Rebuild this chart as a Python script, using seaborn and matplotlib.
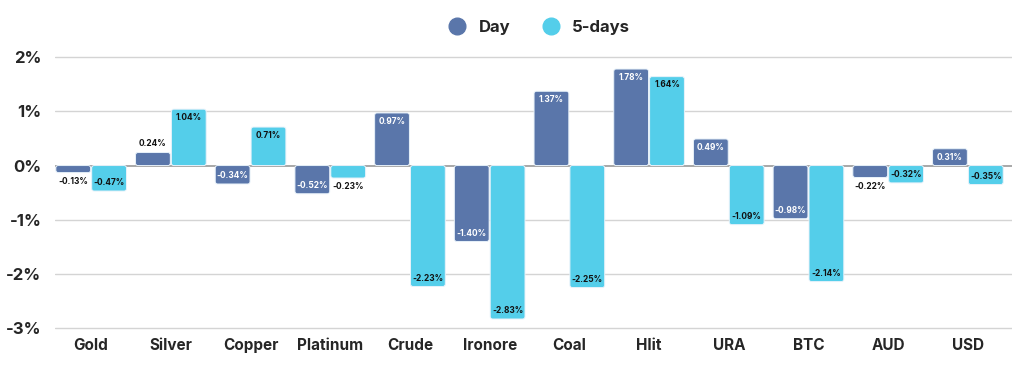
import numpy as np
import pandas as pd
import matplotlib
matplotlib.use("Agg")
import matplotlib.pyplot as plt
import seaborn as sns
from matplotlib.lines import Line2D
from matplotlib.patches import FancyBboxPatch

# data
assets = ["Gold", "Silver", "Copper", "Platinum", "Crude", "Ironore",
          "Coal", "Hlit", "URA", "BTC", "AUD", "USD"]
day = [-0.13, 0.24, -0.34, -0.52, 0.97, -1.40, 1.37, 1.78, 0.49, -0.98, -0.22, 0.31]
five_days = [-0.47, 1.04, 0.71, -0.23, -2.23, -2.83, -2.25, 1.64, -1.09, -2.14, -0.32, -0.35]
series = ["Day", "5-days"]
colors = ["#5a76aa", "#54ceea"]
yticks = [-3, -2, -1, 0, 1, 2]

df = pd.DataFrame({"asset": assets, "Day": day, "5-days": five_days})
long = df.melt(id_vars="asset", var_name="series", value_name="value")

sns.set_style("white")
plt.rcParams["font.family"] = ["Inter", "DejaVu Sans"]

fig = plt.figure(figsize=(10.24, 3.8), dpi=100)
ax = fig.add_axes([0.054, 0.132, 0.934, 0.722])

sns.barplot(data=long, x="asset", y="value", hue="series", hue_order=series,
            palette=colors, width=0.9, gap=0.03, saturation=1, legend=False, ax=ax)

ax.set_ylim(-3.03, 2.03)
ax.set_xlim(-0.45, 11.55)
ax.set_yticks(yticks)
ax.set_yticklabels([f"{t}%" for t in yticks], fontsize=12, fontweight="bold")
ax.set_xticks(range(len(assets)))
ax.set_xticklabels(assets, fontsize=11, fontweight="bold")
ax.tick_params(axis="both", length=0, pad=6)
ax.tick_params(axis="y", pad=10)
ax.set_xlabel("")
ax.set_ylabel("")
for s in ax.spines.values():
    s.set_visible(False)
for t in yticks:
    ax.axhline(t, color="#a8a8a8" if t == 0 else "#d4d4d4", lw=1.4 if t == 0 else 1.0, zorder=0)

# slightly rounded bars with a light outline, plus value labels
aspect = (5.06 / 274) / (12.0 / 957)
for cont, txtcol in zip(ax.containers, ["white", "#111111"]):
    for bar in cont:
        v = bar.get_height()
        x0, w = bar.get_x(), bar.get_width()
        fc = bar.get_facecolor()
        bar.set_visible(False)
        ax.add_patch(FancyBboxPatch((x0, min(0, v)), w, abs(v),
                                    boxstyle="round,pad=0,rounding_size=0.03",
                                    mutation_aspect=aspect, facecolor=fc,
                                    edgecolor="#e8f2fa", linewidth=0.7, zorder=2))
        xc = x0 + w / 2
        if abs(v) < 0.3:
            y = v + (0.08 if v > 0 else -0.08)
            va = "bottom" if v > 0 else "top"
            col = "#111111"
        else:
            y = v - (0.07 if v > 0 else -0.07)
            va = "top" if v > 0 else "bottom"
            col = txtcol
        ax.text(xc, y, f"{v:.2f}%", ha="center", va=va, fontsize=6,
                fontweight="bold", color=col, zorder=3)

handles = [Line2D([], [], marker="o", linestyle="", markersize=12,
                  markerfacecolor=c, markeredgecolor=c) for c in colors]
fig.legend(handles, series, loc="center", bbox_to_anchor=(0.523, 0.928), ncol=2,
           frameon=False, prop={"weight": "bold", "size": 12},
           handletextpad=0.3, columnspacing=1.4)

fig.savefig("out.png", dpi=100)
